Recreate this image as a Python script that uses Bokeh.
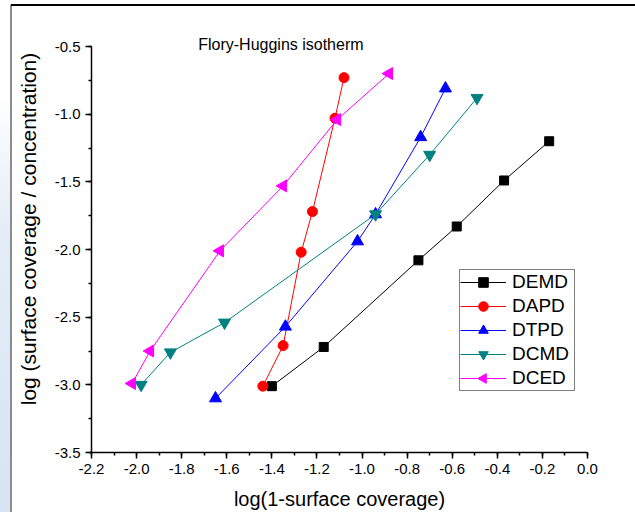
from bokeh.plotting import figure
from bokeh.models import (Range1d, Label, SingleIntervalTicker, Legend,
                          PrintfTickFormatter, CustomJS)
from bokeh.embed import file_html
from bokeh.resources import INLINE
import numpy as np

# ---- data ----
x_demd = [-1.40, -1.17, -0.75, -0.58, -0.37, -0.17]
y_demd = [-3.01, -2.72, -2.08, -1.83, -1.49, -1.20]
x_dapd = [-1.44, -1.35, -1.27, -1.22, -1.12, -1.08]
y_dapd = [-3.01, -2.71, -2.02, -1.72, -1.03, -0.73]
x_dtpd = [-1.65, -1.34, -1.02, -0.94, -0.74, -0.63]
y_dtpd = [-3.10, -2.57, -1.94, -1.74, -1.17, -0.81]
x_dcmd = [-1.98, -1.85, -1.61, -0.94, -0.70, -0.49]
y_dcmd = [-3.00, -2.76, -2.54, -1.74, -1.30, -0.88]
x_dced = [-2.02, -1.94, -1.63, -1.35, -1.11, -0.88]
y_dced = [-2.99, -2.75, -2.01, -1.53, -1.04, -0.70]

title_text = "Flory-Huggins isotherm"
x_title = "log(1-surface coverage)"
y_title = "log (surface coverage / concentration)"

FONT = "Liberation Sans"

# frame: left 91px, right 587px, bottom 452px; y axis bounds -3.5..-0.5 (406px)
PX_Y = 406 / 3.0
y_end = -0.5 + 41 / PX_Y

p = figure(width=635, height=512, output_backend="svg", toolbar_location=None,
           x_range=Range1d(-2.2, 0.0), y_range=Range1d(-3.5, y_end),
           min_border_left=91, min_border_right=48, min_border_top=5, min_border_bottom=60)
p.outline_line_color = None
p.xgrid.visible = False
p.ygrid.visible = False
p.background_fill_alpha = 0
p.border_fill_alpha = 0
p.styles = {
    "background-color": "white",
    "background-image": ("linear-gradient(#000000, #000000), "
                         "linear-gradient(#8c8c8c, #8c8c8c), "
                         "linear-gradient(to bottom, #ffffff 0%, #ffffff 18%, #e4edf7 45%, #d6e4f3 100%)"),
    "background-position": "11px 4px, 10px 5px, 0px 0px",
    "background-size": "100% 2px, 2px 100%, 10px 100%",
    "background-repeat": "no-repeat",
}

p.xaxis.ticker = SingleIntervalTicker(interval=0.2, num_minor_ticks=2)
p.yaxis.ticker = SingleIntervalTicker(interval=0.5, num_minor_ticks=2)
p.xaxis.bounds = (-2.2, 0.0)
p.yaxis.bounds = (-3.5, -0.5)
for ax in (p.xaxis, p.yaxis):
    ax.formatter = PrintfTickFormatter(format="%.1f")
    ax.major_tick_in = 0
    ax.major_tick_out = 6
    ax.minor_tick_in = 0
    ax.minor_tick_out = 3
    ax.axis_line_width = 1.5
    ax.major_tick_line_width = 1.5
    ax.minor_tick_line_width = 1.5
    ax.axis_line_color = "black"
    ax.major_label_text_font = FONT
    ax.major_label_text_font_size = "15px"
    ax.major_label_text_color = "black"
    ax.axis_label_text_font = FONT
    ax.axis_label_text_font_style = "normal"
    ax.axis_label_text_color = "black"
p.xaxis.axis_label_text_font_size = "20px"
p.yaxis.axis_label_text_font_size = "21px"
p.xaxis.axis_label = x_title
p.yaxis.axis_label = y_title
p.xaxis.major_label_standoff = 5
p.yaxis.major_label_standoff = 5
p.xaxis.axis_label_standoff = 11
p.yaxis.axis_label_standoff = 12

LEFT_TRI_JS = """
export default function(...argv) {
  try {
    let d = null;
    for (const a of argv) { if (a != null && typeof a === "object" && "ctx" in a) { d = a; } }
    if (d == null) return;
    const {ctx, i, r, visuals} = d;
    const h = r * Math.sqrt(3);
    const a = h / 3;
    ctx.beginPath();
    ctx.moveTo(a, -r);
    ctx.lineTo(a, r);
    ctx.lineTo(a - h, 0);
    ctx.closePath();
    visuals.fill.apply(ctx, i);
    visuals.line.apply(ctx, i);
  } catch (e) {}
}
"""

series = [
    ("DEMD", x_demd, y_demd, "black", "square", 9),
    ("DAPD", x_dapd, y_dapd, "red", "circle", 10),
    ("DTPD", x_dtpd, y_dtpd, "blue", "triangle", 12),
    ("DCMD", x_dcmd, y_dcmd, "#008080", "inverted_triangle", 12),
    ("DCED", x_dced, y_dced, "magenta", "left", 12),
]
items = []
for name, xs, ys, col, mk, sz in series:
    l = p.line(xs, ys, line_color=col, line_width=1)
    if mk == "left":
        try:
            s = p.scatter(xs, ys, marker="@left_tri", size=sz, fill_color=col, line_color=col,
                          defs={"@left_tri": CustomJS(code=LEFT_TRI_JS)})
        except Exception:
            s = p.scatter(xs, ys, marker="triangle", size=sz, angle=np.pi / 2,
                          fill_color=col, line_color=col)
    else:
        s = p.scatter(xs, ys, marker=mk, size=sz, fill_color=col, line_color=col)
    items.append((name, [l, s]))

legend = Legend(items=items, location=(368, 61))
legend.label_text_font = FONT
legend.label_text_font_size = "19px"
legend.label_text_color = "black"
legend.border_line_color = "black"
legend.border_line_width = 1
legend.background_fill_color = "white"
legend.background_fill_alpha = 1
legend.glyph_width = 46
legend.glyph_height = 24
legend.label_height = 24
legend.label_width = 62
legend.label_standoff = 6
legend.spacing = 0
legend.padding = 0
legend.margin = 0
p.add_layout(legend, "center")

p.add_layout(Label(x=-1.36, y=-0.5 + 2 / PX_Y, text=title_text, text_align="center",
                   text_baseline="middle", text_font=FONT, text_font_size="16px",
                   text_color="black"))

open("out.html", "w").write(file_html(p, INLINE))
